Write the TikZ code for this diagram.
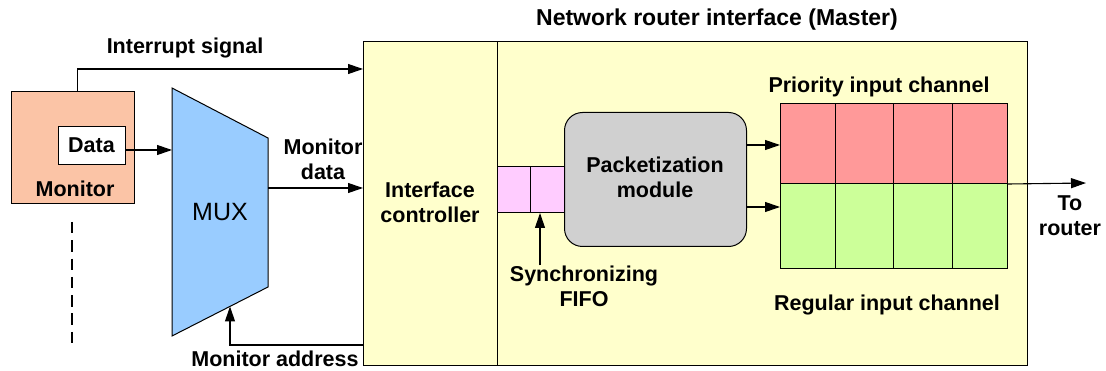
\documentclass[tikz,border=0pt]{standalone}
\usepackage{fontspec}
\setmainfont{Liberation Sans}
\usetikzlibrary{arrows.meta,calc}
\definecolor{peach}{HTML}{FBC4A6}
\definecolor{paleyellow}{HTML}{FFFFCC}
\definecolor{muxblue}{HTML}{99CCFF}
\definecolor{fifopink}{HTML}{FFCCFF}
\definecolor{pktgray}{HTML}{D0D0D0}
\definecolor{prired}{HTML}{FF9999}
\definecolor{reggreen}{HTML}{CCFF99}
\tikzset{
  box/.style={draw, line width=1pt, inner sep=0pt, anchor=north west},
  lbl/.style={font=\fontsize{21.5}{25}\selectfont\bfseries, align=center, inner sep=0pt},
  arr/.style={draw, line width=1.1pt, -{Triangle[length=15pt,width=10pt]}},
}
\begin{document}
\begin{tikzpicture}[x=1pt,y=-1pt]
\useasboundingbox (0,0) rectangle (1106,371);

% monitor block
\node[box, fill=peach, minimum width=123pt, minimum height=112pt] (mon) at (11,91) {};
\node[box, fill=white, minimum width=67pt, minimum height=38pt] (data) at (58,126) {};
\node[lbl] (datat) at (91.5,145) {Data};
\node[lbl] (mont) at (75,189) {Monitor};
\coordinate (dashtop) at (72,222);
\coordinate (dashbot) at (72,343);
\draw[line width=1.1pt, dash pattern=on 11.5pt off 6.8pt] (dashtop) -- (dashbot);

% multiplexer
\coordinate (mtl) at (172,88);
\coordinate (mtr) at (268,138);
\coordinate (mbr) at (268,287);
\coordinate (mbl) at (172,336);
\draw[line width=1pt, fill=muxblue] (mtl) -- (mtr) -- (mbr) -- (mbl) -- cycle;
\node[font=\fontsize{25}{28}\selectfont, inner sep=0pt] (muxt) at (220,212) {MUX};
\coordinate (muxin) at (172,150);
\coordinate (muxout) at (268,188);
\coordinate (muxaddr) at (230,306.5);

% network router interface
\node[box, fill=paleyellow, minimum width=664pt, minimum height=324pt] (nri) at (363,41) {};
\node[box, fill=paleyellow, minimum width=134pt, minimum height=324pt] (ctrl) at (363,41) {};
\node[lbl, font=\fontsize{23}{26}\selectfont\bfseries] (title) at (717,20) {Network router interface (Master)};
\node[lbl] (ctrlt) at (430,202) {Interface\\controller};

% synchronizing FIFO
\node[box, fill=fifopink, minimum width=33pt, minimum height=46pt] (f1) at (497,166) {};
\node[box, fill=fifopink, minimum width=34pt, minimum height=46pt] (f2) at (530,166) {};
\node[lbl] (synct) at (584,286) {Synchronizing\\FIFO};

% packetization module
\node[box, fill=pktgray, rounded corners=18pt, minimum width=182pt, minimum height=134pt] (pkt) at (564,112) {};
\node[lbl] (pktt) at (655,177) {Packetization\\module};

% input channels
\node[box, fill=prired, minimum width=55pt, minimum height=80pt] (p1) at (780,103) {};
\node[box, fill=prired, minimum width=58pt, minimum height=80pt] (p2) at (835,103) {};
\node[box, fill=prired, minimum width=59pt, minimum height=80pt] (p3) at (893,103) {};
\node[box, fill=prired, minimum width=55pt, minimum height=80pt] (p4) at (952,103) {};
\node[box, fill=reggreen, minimum width=55pt, minimum height=85pt] (r1) at (780,183) {};
\node[box, fill=reggreen, minimum width=58pt, minimum height=85pt] (r2) at (835,183) {};
\node[box, fill=reggreen, minimum width=59pt, minimum height=85pt] (r3) at (893,183) {};
\node[box, fill=reggreen, minimum width=55pt, minimum height=85pt] (r4) at (952,183) {};
\node[lbl] (prit) at (879,87) {Priority input channel};
\node[lbl] (regt) at (887,305) {Regular input channel};
\node[lbl] (tort) at (1070,216) {To\\router};
\coordinate (out) at (1086,183);

% signal labels
\node[lbl] (intt) at (185,48) {Interrupt signal};
\node[lbl] (mdt) at (323,159) {Monitor\\data};
\node[lbl, anchor=base] (mat) at (275,366.5) {Monitor address};

% connectors
\draw[arr] ([xshift=4.5pt]mon.north) |- (ctrl.west |- 0,69);
\draw[arr] (data.east |- muxin) -- (muxin);
\draw[arr] (muxout) -- (ctrl.west |- muxout);
\draw[arr] (ctrl.west |- 0,345) -| (muxaddr);
\draw[arr] (synct.north -| 540,0) -- (f2.south -| 540,0);
\draw[arr] (pkt.east |- 0,145) -- (p1.west |- 0,145);
\draw[arr] (pkt.east |- 0,207) -- (r1.west |- 0,207);
\draw[arr] (p4.south east) -- (out);
\end{tikzpicture}
\end{document}
